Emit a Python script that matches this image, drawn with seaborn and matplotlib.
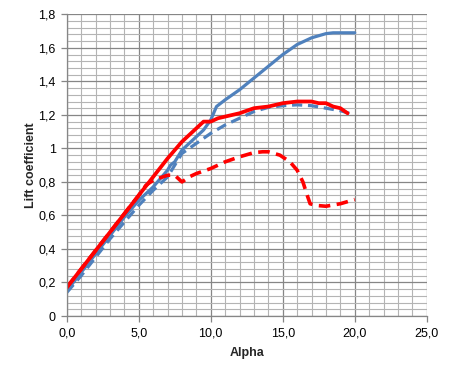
import numpy as np
import pandas as pd
import matplotlib
matplotlib.use('Agg')
import matplotlib.pyplot as plt
from matplotlib.ticker import MultipleLocator, FuncFormatter
import seaborn as sns

# данные
alpha_red = [0, 1, 2, 3, 4, 5, 6, 7, 8, 9, 9.5, 10, 10.5, 11, 12, 13, 14, 15, 16, 17, 17.5, 18, 18.5, 19, 19.5]
cl_red = [0.17, 0.28, 0.39, 0.50, 0.61, 0.72, 0.83, 0.94, 1.04, 1.12, 1.16, 1.16, 1.18, 1.19, 1.21, 1.24, 1.25,
          1.27, 1.28, 1.28, 1.27, 1.27, 1.25, 1.24, 1.21]

alpha_red_d = [0, 1, 2, 3, 4, 5, 5.5, 6, 7, 7.5, 8, 8.5, 9, 10, 11, 12, 13, 13.6, 14, 14.8, 15.5, 16, 16.4, 16.7,
               16.9, 17.3, 18, 19, 20]
cl_red_d = [0.17, 0.28, 0.39, 0.50, 0.61, 0.72, 0.78, 0.81, 0.84, 0.84, 0.80, 0.83, 0.85, 0.88, 0.92, 0.95, 0.975,
            0.98, 0.98, 0.96, 0.92, 0.87, 0.80, 0.72, 0.67, 0.66, 0.655, 0.67, 0.695]

alpha_blue = [0, 1, 2, 3, 4, 5, 6, 7, 7.2, 7.5, 8, 9, 9.5, 10, 10.4, 11, 12, 13, 14, 15, 16, 17, 18, 18.5, 19, 20]
cl_blue = [0.15, 0.26, 0.37, 0.48, 0.59, 0.69, 0.77, 0.87, 0.90, 0.92, 0.99, 1.07, 1.11, 1.17, 1.25, 1.29, 1.35,
           1.42, 1.49, 1.56, 1.62, 1.66, 1.685, 1.69, 1.69, 1.69]

alpha_blue_d = [0, 1, 2, 3, 4, 5, 6, 7, 7.5, 8, 9, 10, 11, 12, 13, 14, 15, 16, 17, 18, 19, 20]
cl_blue_d = [0.14, 0.24, 0.35, 0.46, 0.56, 0.66, 0.75, 0.83, 0.90, 0.97, 1.03, 1.09, 1.14, 1.18, 1.22, 1.245,
             1.255, 1.26, 1.255, 1.24, 1.225, 1.20]

sns.set_style('white')
plt.rcParams['font.family'] = ['Liberation Sans', 'DejaVu Sans']

fig = plt.figure(figsize=(4.54, 3.78), dpi=100)
ax = fig.add_axes([0.147, 0.164, 0.793, 0.798])

blue = '#4F81BD'
red = '#FF0000'

sns.lineplot(x=alpha_blue_d, y=cl_blue_d, ax=ax, color=blue, lw=2.3, sort=False, estimator=None)
ax.lines[-1].set_dashes((3.2, 1.8))
sns.lineplot(x=alpha_blue, y=cl_blue, ax=ax, color=blue, lw=2.3, sort=False, estimator=None)
sns.lineplot(x=alpha_red_d, y=cl_red_d, ax=ax, color=red, lw=2.6, sort=False, estimator=None)
ax.lines[-1].set_dashes((3.2, 1.8))
sns.lineplot(x=alpha_red, y=cl_red, ax=ax, color=red, lw=2.7, sort=False, estimator=None)

ax.set_xlim(0, 25)
ax.set_ylim(0, 1.8)
ax.xaxis.set_major_locator(MultipleLocator(5))
ax.xaxis.set_minor_locator(MultipleLocator(1))
ax.yaxis.set_major_locator(MultipleLocator(0.2))
ax.yaxis.set_minor_locator(MultipleLocator(0.04))

ax.xaxis.set_major_formatter(FuncFormatter(lambda v, p: f'{v:.1f}'.replace('.', ',')))
ax.yaxis.set_major_formatter(FuncFormatter(lambda v, p: f'{round(v, 2):g}'.replace('.', ',')))

ax.grid(which='major', color='#868686', lw=0.9)
ax.grid(which='minor', color='#b4b4b4', lw=0.8)
ax.set_axisbelow(True)

for s in ['top', 'right']:
    ax.spines[s].set_visible(False)
for s in ['left', 'bottom']:
    ax.spines[s].set_color('#868686')
    ax.spines[s].set_linewidth(0.9)

ax.tick_params(which='major', direction='out', length=4, width=0.9, color='#868686',
               labelsize=9, labelcolor='black', left=True, bottom=True, pad=4)
ax.tick_params(which='minor', length=0)

ax.set_xlabel('Alpha', fontsize=9, fontweight='bold', labelpad=6)
ax.set_ylabel('Lift coefficient', fontsize=9, fontweight='bold', labelpad=1)

fig.savefig('out.png', dpi=100)
